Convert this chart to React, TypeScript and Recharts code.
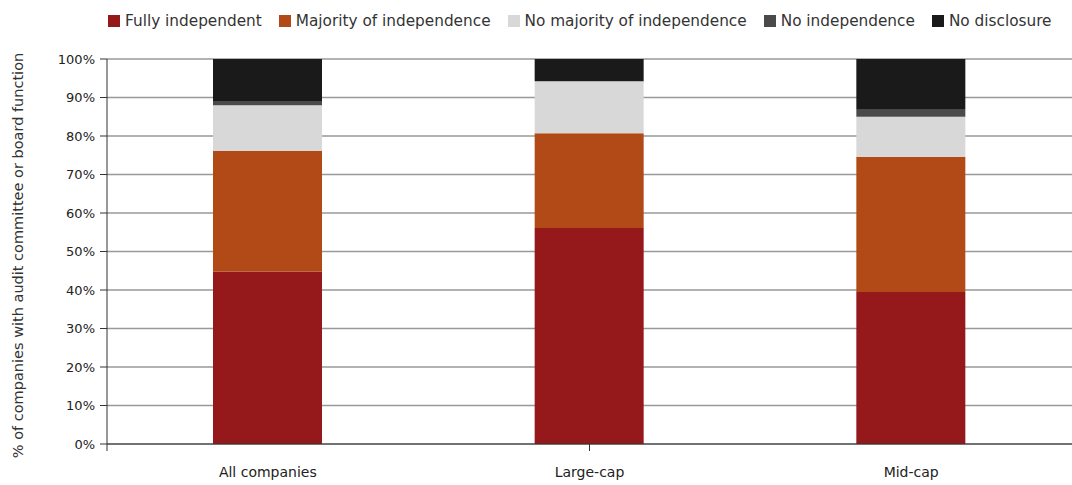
import { BarChart, Bar, XAxis, YAxis, CartesianGrid } from 'recharts'

const categories = ['All companies', 'Large-cap', 'Mid-cap']
const fullyIndependent = [44.8, 56.1, 39.5]
const majorityOfIndependence = [31.3, 24.6, 35.1]
const noMajorityOfIndependence = [11.9, 13.5, 10.4]
const noIndependence = [1.1, 0, 1.8]
const noDisclosure = [10.9, 5.8, 13.2]
const yTicks = [0, 10, 20, 30, 40, 50, 60, 70, 80, 90, 100]
const boundaryTicks = [0, 1, 2, 3]

const series = [
  { key: 'fully', name: 'Fully independent', values: fullyIndependent, color: '#95181a' },
  { key: 'majority', name: 'Majority of independence', values: majorityOfIndependence, color: '#b24a18' },
  { key: 'noMajority', name: 'No majority of independence', values: noMajorityOfIndependence, color: '#d8d8d8' },
  { key: 'noIndep', name: 'No independence', values: noIndependence, color: '#4a4a4a' },
  { key: 'noDisc', name: 'No disclosure', values: noDisclosure, color: '#1a1a1a' },
]

const data = categories.map((name, i) => {
  const row: Record<string, string | number> = { name }
  series.forEach((s) => {
    row[s.key] = s.values[i]
  })
  return row
})

const font = '"DejaVu Sans", Verdana, sans-serif'

function YLabel({ viewBox }: any) {
  const cy = viewBox.y + viewBox.height / 2
  return (
    <text
      transform={`translate(18 ${cy + 4}) rotate(-90)`}
      textAnchor="middle"
      dominantBaseline="central"
      fontSize={14.5}
      fill="#333"
      fontFamily={font}
    >
      % of companies with audit committee or board function
    </text>
  )
}

export default function App() {
  return (
    <div style={{ position: 'absolute', left: 0, top: 0, width: 1072, height: 485, background: '#fff', fontFamily: font }}>
      <div
        style={{
          position: 'absolute',
          top: 12,
          left: 108,
          display: 'flex',
          gap: 17,
          fontSize: 15.3,
          color: '#333',
          whiteSpace: 'nowrap',
        }}
      >
        {series.map((s) => (
          <div key={s.key} style={{ display: 'flex', alignItems: 'center' }}>
            <span style={{ width: 12, height: 12, background: s.color, marginRight: 5, display: 'inline-block' }} />
            {s.name}
          </div>
        ))}
      </div>
      <BarChart
        width={1072}
        height={485}
        data={data}
        margin={{ top: 59, right: 0, bottom: 0, left: 0 }}
        style={{ position: 'absolute', left: 0, top: 0 }}
      >
        <CartesianGrid xAxisId="cat" vertical={false} stroke="#999" strokeWidth={1.6} />
        <XAxis
          xAxisId="bounds"
          type="number"
          domain={[0, 3]}
          ticks={boundaryTicks}
          tickFormatter={() => ''}
          axisLine={{ stroke: '#333' }}
          tickLine={{ stroke: '#333' }}
          tickSize={7}
          height={1}
        />
        <XAxis
          xAxisId="cat"
          dataKey="name"
          tickLine={false}
          axisLine={false}
          tick={{ fontSize: 14, fill: '#222', fontFamily: font }}
          tickMargin={16}
          height={40}
        />
        <YAxis
          domain={[0, 100]}
          ticks={yTicks}
          tickFormatter={(v) => `${v}%`}
          width={107}
          axisLine={{ stroke: '#333' }}
          tickLine={{ stroke: '#333' }}
          tickSize={7}
          tickMargin={5}
          tick={{ fontSize: 13, fill: '#222', fontFamily: font }}
          label={<YLabel />}
        />
        {series.map((s) => (
          <Bar
            key={s.key}
            xAxisId="cat"
            dataKey={s.key}
            name={s.name}
            stackId="a"
            fill={s.color}
            barSize={109}
            isAnimationActive={false}
          />
        ))}
      </BarChart>
    </div>
  )
}
